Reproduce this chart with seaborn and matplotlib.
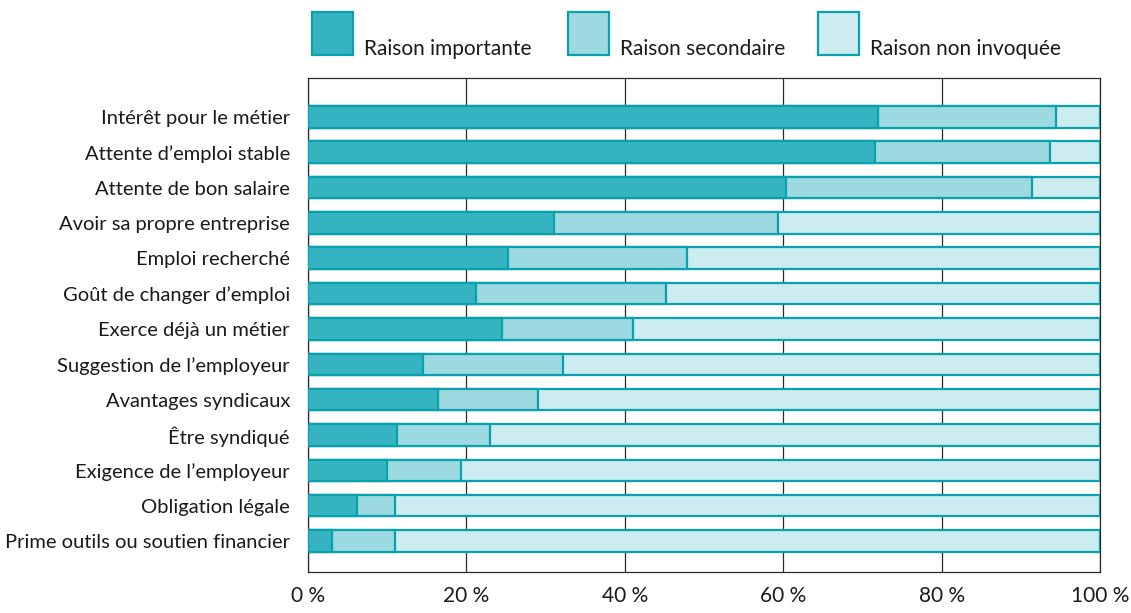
import matplotlib
import matplotlib.pyplot as plt
import numpy as np
import pandas as pd
import seaborn as sns
from matplotlib.patches import Rectangle

matplotlib.use("Agg")

CATEGORIES = [
    "Intérêt pour le métier",
    "Attente d\u2019emploi stable",
    "Attente de bon salaire",
    "Avoir sa propre entreprise",
    "Emploi recherché",
    "Goût de changer d\u2019emploi",
    "Exerce déjà un métier",
    "Suggestion de l\u2019employeur",
    "Avantages syndicaux",
    "Être syndiqué",
    "Exigence de l\u2019employeur",
    "Obligation légale",
    "Prime outils ou soutien financier",
]
IMPORTANTE = [72.0, 71.6, 60.4, 31.0, 25.3, 21.2, 24.5, 14.5, 16.4, 11.2, 10.0, 6.2, 3.0]
SECONDAIRE = [22.4, 22.1, 31.0, 28.4, 22.5, 24.0, 16.5, 17.7, 12.7, 11.8, 9.3, 4.8, 8.0]
NON_INVOQUEE = [round(100 - a - b, 1) for a, b in zip(IMPORTANTE, SECONDAIRE)]

SERIES = ["Raison importante", "Raison secondaire", "Raison non invoquée"]
COLORS = ["#35B3C1", "#9DD9E1", "#CCECEF"]
EDGE = "#0AA1AE"
X_TICKS = [0, 20, 40, 60, 80, 100]
X_LABELS = ["0 %", "20 %", "40 %", "60 %", "80 %", "100 %"]

W, H = 1131, 613

sns.set_theme(style="white")
plt.rcParams["font.family"] = ["Lato", "DejaVu Sans"]
plt.rcParams["text.color"] = "#1a1a1a"

df = pd.DataFrame(
    {
        "cat": CATEGORIES,
        "imp": IMPORTANTE,
        "sec": SECONDAIRE,
        "non": NON_INVOQUEE,
    }
)
df["cum_sec"] = df["imp"] + df["sec"]
df["cum_non"] = df["cum_sec"] + df["non"]

fig = plt.figure(figsize=(W / 100, H / 100), dpi=100, facecolor="white")
ax = fig.add_axes([308 / W, 1 - 572 / H, (1100 - 308) / W, (572 - 78) / H])

# stacked look: draw cumulative totals back to front
for col, color in zip(["cum_non", "cum_sec", "imp"], COLORS[::-1]):
    sns.barplot(
        data=df,
        x=col,
        y="cat",
        orient="h",
        color=color,
        edgecolor=EDGE,
        linewidth=1.6,
        width=0.61,
        saturation=1,
        ax=ax,
        zorder=3,
    )

ax.set_xlim(0, 100)
ax.set_ylim(len(CATEGORIES) - 1 + 0.877, -1.10)
ax.set_xticks(X_TICKS)
ax.set_xticklabels(X_LABELS)
ax.set_xlabel("")
ax.set_ylabel("")
ax.xaxis.grid(True, color="#2a2a2a", linewidth=0.9, zorder=0)
ax.yaxis.grid(False)
ax.set_axisbelow(True)
for spine in ax.spines.values():
    spine.set_visible(True)
    spine.set_color("#2a2a2a")
    spine.set_linewidth(0.9)
ax.tick_params(axis="both", length=0, labelsize=14.5, colors="#1a1a1a")
ax.tick_params(axis="y", pad=13)
ax.tick_params(axis="x", labelsize=15, pad=10)

# legend drawn as squares with label next to it
legend_x = [312, 568, 818]
for x0, name, color in zip(legend_x, SERIES, COLORS):
    fig.add_artist(
        Rectangle(
            (x0 / W, 1 - 55 / H),
            41 / W,
            42.5 / H,
            transform=fig.transFigure,
            facecolor=color,
            edgecolor=EDGE,
            linewidth=1.6,
        )
    )
    fig.text((x0 + 52) / W, 1 - 55 / H, name, fontsize=15, va="baseline", ha="left")

fig.savefig("out.png", dpi=100, facecolor="white")
plt.close(fig)
